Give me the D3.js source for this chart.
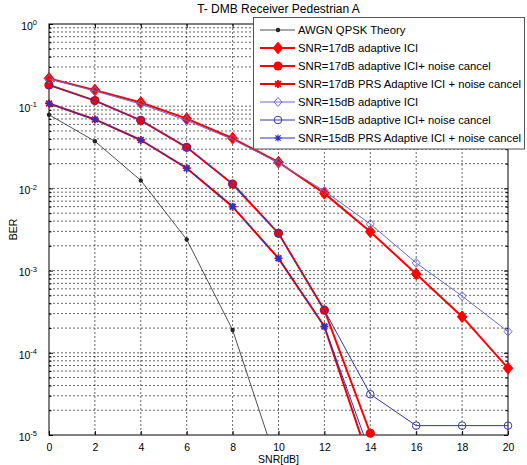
<!DOCTYPE html>
<html lang="en">
<head>
<meta charset="UTF-8">
<title>T- DMB Receiver Pedestrian A</title>
<script src="https://d3js.org/d3.v7.min.js"></script>
<style>
  body { margin: 0; background: #fff; }
  svg { font-family: "Liberation Sans", Arial, Helvetica, sans-serif; }
  .grid line { stroke: #000; stroke-opacity: 0.75; stroke-width: 0.8; stroke-dasharray: 2,2; }
  .axis path { display: none; }
  .axis line { stroke: #000; }
  .axis text { font-size: 10.5px; fill: #000; }
</style>
</head>
<body>
<div id="chart"></div>
<script>
// SNR in dB (x values)
const snr = [0, 2, 4, 6, 8, 10, 12, 14, 16, 18, 20];

// BER values
const awgnTheory = [0.0786, 0.0375, 0.0125, 0.00239, 1.9e-4, 3.9e-6];
const ici17 = [0.218, 0.157, 0.111, 0.0705, 0.0407, 0.0208, 0.0087, 0.00297, 9.1e-4, 2.75e-4, 6.5e-5];
const nc17 = [0.181, 0.117, 0.0673, 0.0316, 0.0113, 0.00284, 3.3e-4, 1.05e-5];
const prs17 = [0.108, 0.069, 0.0388, 0.0176, 0.0060, 0.00141, 2.09e-4, 4.4e-6];
const ici15 = [0.215, 0.153, 0.106, 0.067, 0.0395, 0.0205, 0.0093, 0.00369, 1.24e-3, 4.9e-4, 1.81e-4];
const nc15 = [0.181, 0.117, 0.0673, 0.0316, 0.0113, 0.00284, 3.3e-4, 3.13e-5, 1.3e-5, 1.3e-5, 1.3e-5];
const prs15 = [0.108, 0.069, 0.0388, 0.0176, 0.0060, 0.00141, 2.09e-4, 6e-6];

const legendNames = [
  "AWGN QPSK Theory",
  "SNR=17dB adaptive ICI",
  "SNR=17dB adaptive ICI+ noise cancel",
  "SNR=17dB PRS Adaptive ICI + noise cancel",
  "SNR=15dB adaptive ICI",
  "SNR=15dB adaptive ICI+ noise cancel",
  "SNR=15dB PRS Adaptive ICI + noise cancel"
];

const xTicks = [0, 2, 4, 6, 8, 10, 12, 14, 16, 18, 20];
const yTicks = [1e-5, 1e-4, 1e-3, 1e-2, 1e-1, 1];

// styles
const styles = [
  { color: "#222", width: 0.8, marker: "dot" },
  { color: "#ff0000", width: 2, marker: "diamondFill" },
  { color: "#ff0000", width: 2, marker: "circleFill" },
  { color: "#ee0000", width: 2, marker: "starRed" },
  { color: "#6a6ad0", width: 1, marker: "diamondOpen" },
  { color: "#3535b0", width: 1, marker: "circleOpen" },
  { color: "#3030c0", width: 1, marker: "star" }
];
const seriesValues = [awgnTheory, ici17, nc17, prs17, ici15, nc15, prs15];

const W = 527, H = 465;
const m = { left: 49, right: 508, top: 24, bottom: 435 };

const svg = d3.select("#chart").append("svg")
  .attr("width", W).attr("height", H);

const x = d3.scaleLinear().domain([0, 20]).range([m.left, m.right]);
const y = d3.scaleLog().domain([1e-5, 1]).range([m.bottom, m.top]);

// minor log values
const minors = [];
for (let e = -5; e < 0; e++) {
  for (let k = 2; k <= 9; k++) minors.push(k * Math.pow(10, e));
}

// grid
const grid = svg.append("g").attr("class", "grid");
grid.selectAll("line.v").data(xTicks.slice(1, -1)).join("line")
  .attr("x1", d => x(d)).attr("x2", d => x(d))
  .attr("y1", m.top).attr("y2", m.bottom);
grid.selectAll("line.h").data(yTicks.slice(1, -1).concat(minors)).join("line")
  .attr("x1", m.left).attr("x2", m.right)
  .attr("y1", d => y(d)).attr("y2", d => y(d));

// axes
svg.append("g").attr("class", "axis")
  .attr("transform", `translate(0,${m.bottom})`)
  .call(d3.axisBottom(x).tickValues(xTicks).tickFormat(d3.format("d"))
    .tickSizeInner(-4).tickSizeOuter(0).tickPadding(7))
  .selectAll("text").attr("dy", "0.9em");

svg.append("g").attr("class", "axis")
  .attr("transform", `translate(0,${m.top})`)
  .call(d3.axisTop(x).tickValues(xTicks).tickFormat("").tickSizeInner(-4).tickSizeOuter(0));

const yAxis = svg.append("g").attr("class", "axis")
  .attr("transform", `translate(${m.left},0)`)
  .call(d3.axisLeft(y).tickValues(yTicks).tickSizeInner(-4).tickSizeOuter(0)
    .tickFormat(d => ""));
yAxis.selectAll(".tick text").each(function(d) {
  const t = d3.select(this).attr("x", -12).attr("dy", "0.5em");
  t.append("tspan").text("10");
  t.append("tspan").attr("dy", "-0.6em").attr("font-size", "7.5px")
    .text(String(Math.round(Math.log10(d))));
});
svg.append("g").attr("class", "axis")
  .attr("transform", `translate(${m.left},0)`)
  .call(d3.axisLeft(y).tickValues(minors).tickFormat("").tickSizeInner(-2.5).tickSizeOuter(0));
svg.append("g").attr("class", "axis")
  .attr("transform", `translate(${m.right},0)`)
  .call(d3.axisRight(y).tickValues(yTicks).tickFormat("").tickSizeInner(-4).tickSizeOuter(0));
svg.append("g").attr("class", "axis")
  .attr("transform", `translate(${m.right},0)`)
  .call(d3.axisRight(y).tickValues(minors).tickFormat("").tickSizeInner(-2.5).tickSizeOuter(0));

// box
svg.append("rect")
  .attr("x", m.left).attr("y", m.top)
  .attr("width", m.right - m.left).attr("height", m.bottom - m.top)
  .attr("fill", "none").attr("stroke", "#000").attr("stroke-width", 1);

// clip for lines
svg.append("clipPath").attr("id", "plotClip")
  .append("rect").attr("x", m.left).attr("y", m.top)
  .attr("width", m.right - m.left).attr("height", m.bottom - m.top);

const line = d3.line().x(d => x(d[0])).y(d => y(d[1]));

function drawMarker(g, kind, cx, cy, color) {
  if (kind === "dot") {
    g.append("circle").attr("cx", cx).attr("cy", cy).attr("r", 2.2).attr("fill", color);
  } else if (kind === "diamondFill" || kind === "diamondOpen") {
    const hw = kind === "diamondFill" ? 4.8 : 4, hh = kind === "diamondFill" ? 5.8 : 4.5;
    g.append("path")
      .attr("d", `M${cx},${cy - hh}L${cx + hw},${cy}L${cx},${cy + hh}L${cx - hw},${cy}Z`)
      .attr("fill", kind === "diamondFill" ? color : "none")
      .attr("stroke", color).attr("stroke-width", 1);
  } else if (kind === "circleFill") {
    g.append("circle").attr("cx", cx).attr("cy", cy).attr("r", 4.6).attr("fill", color);
  } else if (kind === "circleOpen") {
    g.append("circle").attr("cx", cx).attr("cy", cy).attr("r", 3.8)
      .attr("fill", "none").attr("stroke", color).attr("stroke-width", 1);
  } else if (kind === "star" || kind === "starRed") {
    const s = kind === "starRed" ? 4 : 3.6;
    const d = s * 0.72;
    g.append("path")
      .attr("d", `M${cx - s},${cy}L${cx + s},${cy}M${cx},${cy - s}L${cx},${cy + s}` +
        `M${cx - d},${cy - d}L${cx + d},${cy + d}M${cx - d},${cy + d}L${cx + d},${cy - d}`)
      .attr("stroke", color).attr("stroke-width", kind === "starRed" ? 1.8 : 1.2)
      .attr("fill", "none");
  }
}

const plot = svg.append("g");
seriesValues.forEach((vals, i) => {
  const st = styles[i];
  const pts = vals.map((v, j) => [snr[j], v]);
  const g = plot.append("g");
  g.append("path").datum(pts)
    .attr("clip-path", "url(#plotClip)")
    .attr("d", line)
    .attr("fill", "none")
    .attr("stroke", st.color)
    .attr("stroke-width", st.width)
    .attr("stroke-linejoin", "round");
  pts.filter(p => p[1] >= 1e-5 * 0.99).forEach(p => drawMarker(g, st.marker, x(p[0]), y(p[1]), st.color));
});

// legend
const lg = svg.append("g");
lg.append("rect").attr("x", 253.5).attr("y", 17.5).attr("width", 271).attr("height", 131.5)
  .attr("fill", "#fff").attr("stroke", "#555").attr("stroke-width", 1);
legendNames.forEach((name, i) => {
  const ly = 30 + i * 18;
  const st = styles[i];
  const row = lg.append("g");
  row.append("line").attr("x1", 260).attr("x2", 295).attr("y1", ly).attr("y2", ly)
    .attr("stroke", st.color).attr("stroke-width", st.width);
  drawMarker(row, st.marker, 278, ly, st.color);
  row.append("text").attr("x", 298).attr("y", ly).attr("dy", "0.36em")
    .attr("font-size", "11.3px").text(name);
});

// title and labels
svg.append("text").attr("x", (m.left + m.right) / 2).attr("y", 13)
  .attr("text-anchor", "middle").attr("font-size", "12px").text("T- DMB Receiver Pedestrian A");
svg.append("text").attr("x", (m.left + m.right) / 2).attr("y", 463)
  .attr("text-anchor", "middle").attr("font-size", "10.5px").text("SNR[dB]");
svg.append("text").attr("transform", `translate(17,${(m.top + m.bottom) / 2}) rotate(-90)`)
  .attr("text-anchor", "middle").attr("font-size", "10.5px").text("BER");
</script>
</body>
</html>
